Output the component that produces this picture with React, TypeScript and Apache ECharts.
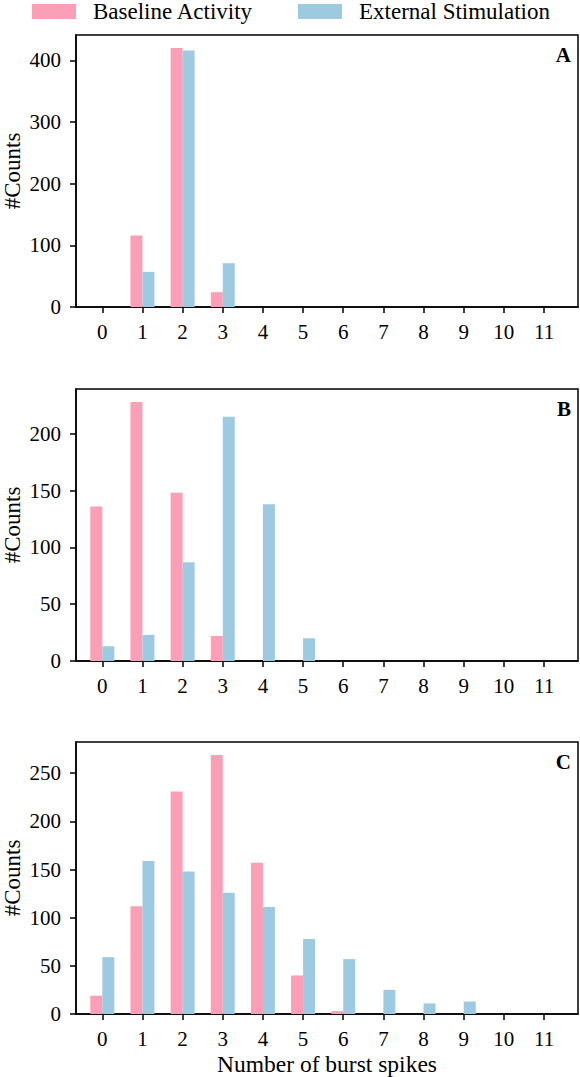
import React, { useEffect, useRef } from "react";
import * as echarts from "echarts";

const bins = [0, 1, 2, 3, 4, 5, 6, 7, 8, 9, 10, 11];
const baselineA = [0, 116, 420, 24, 0, 0, 0, 0, 0, 0, 0, 0];
const stimA = [0, 57, 416, 71, 0, 0, 0, 0, 0, 0, 0, 0];
const baselineB = [136, 228, 148, 22, 0, 0, 0, 0, 0, 0, 0, 0];
const stimB = [13, 23, 87, 215, 138, 20, 0, 0, 0, 0, 0, 0];
const baselineC = [19, 112, 231, 269, 157, 40, 3, 0, 0, 0, 0, 0];
const stimC = [59, 159, 148, 126, 111, 78, 57, 25, 11, 13, 0, 0];
const yTicksA = [0, 100, 200, 300, 400];
const yTicksB = [0, 50, 100, 150, 200];
const yTicksC = [0, 50, 100, 150, 200, 250];
const panelLabels = ["A", "B", "C"];
const seriesNames = ["Baseline Activity", "External Stimulation"];
const yName = "#Counts";
const xName = "Number of burst spikes";

const FONT = "'Liberation Serif', 'Times New Roman', serif";
const PINK = "#fa9fb5";
const BLUE = "#9ecae1";

export default function App() {
  const ref = useRef<HTMLDivElement>(null);
  useEffect(() => {
    if (!ref.current) return;
    const chart = echarts.init(ref.current, undefined, { renderer: "svg" });
    const panels = [
      { base: baselineA, stim: stimA, ticks: yTicksA },
      { base: baselineB, stim: stimB, ticks: yTicksB },
      { base: baselineC, stim: stimC, ticks: yTicksC },
    ];
    const tops = [35, 389, 742];
    const H = 272;
    const LEFT = 76;
    const W = 502;

    const grid: any[] = [];
    const xAxis: any[] = [];
    const yAxis: any[] = [];
    const series: any[] = [];
    const graphic: any[] = [];

    panels.forEach((p, i) => {
      grid.push({
        left: LEFT,
        top: tops[i],
        width: W,
        height: H,
        containLabel: false,
        outerBoundsMode: "none",
        show: true,
        borderColor: "#000",
        borderWidth: 1.5,
        backgroundColor: "transparent",
      });
      xAxis.push({
        type: "value",
        gridIndex: i,
        min: -0.655,
        max: 11.846,
        splitLine: { show: false },
        axisLine: { show: true, onZero: false, lineStyle: { color: "#000", width: 1.5 } },
        axisTick: {
          show: true,
          customValues: bins,
          length: 6,
          lineStyle: { color: "#000", width: 1.5 },
        },
        axisLabel: {
          customValues: bins,
          color: "#000",
          fontFamily: FONT,
          fontSize: 21,
          margin: 14,
        },
        name: i === 2 ? xName : "",
        nameLocation: "middle",
        nameGap: 38,
        nameMoveOverlap: false,
        nameTextStyle: { color: "#000", fontFamily: FONT, fontSize: 23.5 },
      });
      const mx = Math.max(...p.base, ...p.stim) * 1.05;
      yAxis.push({
        type: "value",
        gridIndex: i,
        min: 0,
        max: mx,
        splitLine: { show: false },
        axisLine: { show: true, onZero: false, lineStyle: { color: "#000", width: 1.5 } },
        axisTick: {
          show: true,
          customValues: p.ticks,
          length: 6,
          lineStyle: { color: "#000", width: 1.5 },
        },
        axisLabel: {
          customValues: p.ticks,
          color: "#000",
          fontFamily: FONT,
          fontSize: 21,
          margin: 15,
        },
        name: yName,
        nameLocation: "middle",
        nameGap: 52,
        nameMoveOverlap: false,
        nameTextStyle: { color: "#000", fontFamily: FONT, fontSize: 23 },
      });
      series.push({
        type: "bar",
        name: seriesNames[0],
        xAxisIndex: i,
        yAxisIndex: i,
        data: bins.map((b, j) => [b, p.base[j]]),
        barWidth: 12,
        barGap: "0%",
        itemStyle: { color: PINK },
      });
      series.push({
        type: "bar",
        name: seriesNames[1],
        xAxisIndex: i,
        yAxisIndex: i,
        data: bins.map((b, j) => [b, p.stim[j]]),
        barWidth: 12,
        barGap: "0%",
        itemStyle: { color: BLUE },
      });
      graphic.push({
        type: "text",
        x: 571,
        y: tops[i] + 9,
        style: {
          text: panelLabels[i],
          fontFamily: FONT,
          fontSize: 21,
          fontWeight: "bold",
          fill: "#000",
          textAlign: "right",
          textVerticalAlign: "top",
        },
      });
    });

    const legendCommon = {
      top: 0,
      padding: 0,
      itemWidth: 44,
      itemHeight: 15,
      icon: "rect",
      textStyle: {
        color: "#000",
        fontFamily: FONT,
        fontSize: 23,
        lineHeight: 15,
        padding: [0, 0, 0, 12],
      },
    };

    chart.setOption({
      animation: false,
      backgroundColor: "#fff",
      legend: [
        { ...legendCommon, left: 32, data: [seriesNames[0]] },
        { ...legendCommon, left: 298, data: [seriesNames[1]] },
      ],
      grid,
      xAxis,
      yAxis,
      series,
      graphic,
    });
    return () => chart.dispose();
  }, []);
  return (
    <div
      ref={ref}
      style={{ position: "absolute", left: 0, top: 0, width: 580, height: 1077 }}
    />
  );
}
